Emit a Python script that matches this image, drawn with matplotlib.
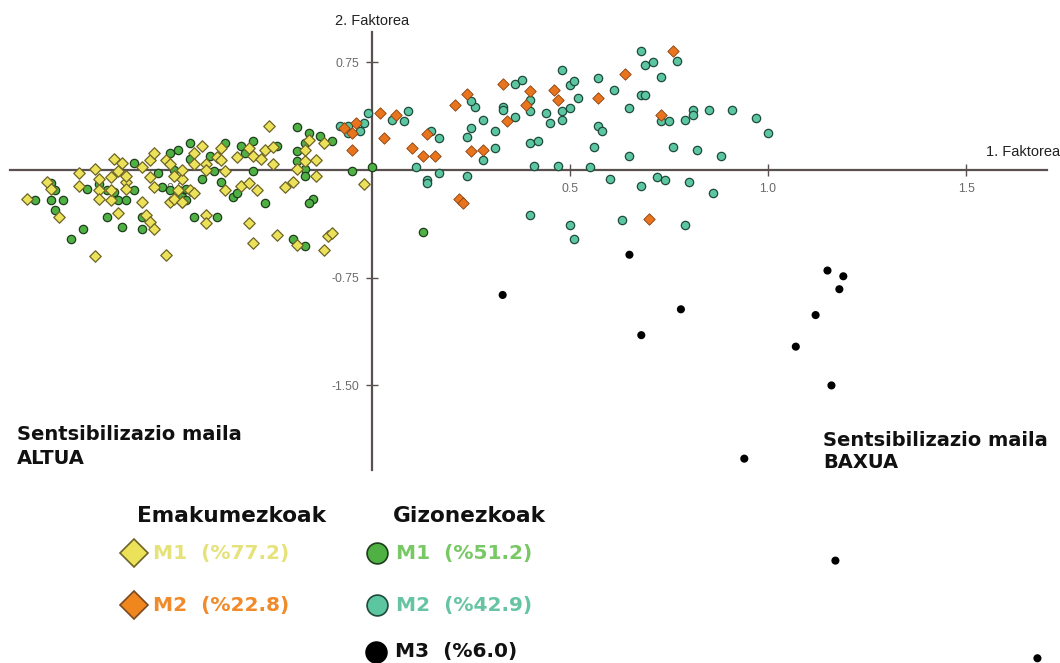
import matplotlib
matplotlib.use("Agg")
import matplotlib.pyplot as plt

# Factor scores (1. Faktorea, 2. Faktorea) by sex and group
women_m1_x = [-0.26, -0.43, -0.45, -0.39, -0.38, -0.38, -0.34, -0.31, -0.30, -0.28, -0.27, -0.25,
              -0.25, -0.45, -0.42, -0.42, -0.37, -0.48, -0.46, -0.45, -0.48, -0.37, -0.33, -0.31,
              -0.29, -0.22, -0.20, -0.19, -0.17, -0.14, -0.17, -0.16, -0.12, -0.14, -0.02, -0.42,
              -0.42, -0.31, -0.30, -0.24, -0.19, -0.12, -0.11, -0.10,
              -0.87, -0.82, -0.81, -0.79, -0.74, -0.74, -0.70, -0.70, -0.69, -0.69, -0.69, -0.66,
              -0.66, -0.65, -0.64, -0.63, -0.62, -0.62, -0.62, -0.66, -0.64, -0.58, -0.58, -0.56,
              -0.55, -0.56, -0.55, -0.57, -0.56, -0.55, -0.52, -0.52, -0.51, -0.50, -0.49, -0.48,
              -0.48, -0.50, -0.51]
women_m1_y = [0.31, 0.17, 0.12, 0.09, 0.15, 0.07, 0.09, 0.15, 0.10, 0.08, 0.14, 0.16,
              0.04, 0.04, 0.04, 0.00, -0.01, -0.06, -0.14, -0.16, -0.22, -0.14, -0.11, -0.09,
              -0.14, -0.12, -0.08, 0.01, 0.06, 0.07, 0.14, 0.21, 0.19, -0.04, -0.10, -0.31,
              -0.37, -0.37, -0.51, -0.45, -0.52, -0.56, -0.46, -0.44,
              -0.20, -0.08, -0.13, -0.33, -0.02, -0.11, -0.60, 0.01, -0.06, -0.14, -0.20, -0.21,
              -0.05, 0.08, -0.01, 0.05, -0.08, -0.04, -0.13, -0.14, -0.30, -0.22, 0.02, 0.07,
              0.12, -0.05, -0.12, -0.31, -0.36, -0.41, 0.07, -0.59, -0.22, -0.20, -0.14, -0.22,
              0.00, -0.04, 0.04]

women_m2_x = [0.02, 0.06, 0.03, 0.10, 0.13, 0.16, 0.14, 0.21, 0.24, 0.25, 0.28, 0.33, 0.34, 0.40,
              0.39, 0.46, 0.47, 0.22, 0.23, -0.07, -0.04, -0.05, -0.05, 0.76, 0.64, 0.57, 0.73, 0.70]
women_m2_y = [0.40, 0.38, 0.22, 0.15, 0.10, 0.10, 0.25, 0.45, 0.53, 0.13, 0.14, 0.60, 0.34, 0.55,
              0.45, 0.56, 0.49, -0.20, -0.23, 0.29, 0.33, 0.26, 0.14, 0.83, 0.67, 0.50, 0.38, -0.34]

men_m1_x = [-0.46, -0.46, -0.43, -0.40, -0.41, -0.37, -0.33, -0.30, -0.32, -0.38, -0.35, -0.34,
            -0.30, -0.27, -0.24, -0.19, -0.16, -0.13, -0.10, -0.19, -0.17, -0.19, -0.17, -0.17,
            -0.15, -0.16, -0.45, -0.39, -0.20, -0.17, -0.47, -0.48, -0.05, 0.00, 0.13,
            -0.85, -0.81, -0.80, -0.81, -0.78, -0.80, -0.76, -0.73, -0.72, -0.69, -0.67, -0.67,
            -0.65, -0.63, -0.64, -0.62, -0.60, -0.60, -0.58, -0.58, -0.54, -0.53, -0.51, -0.49,
            -0.50, -0.51, -0.47]
men_m1_y = [0.19, 0.08, -0.06, -0.01, 0.10, 0.19, 0.17, 0.20, 0.12, -0.08, -0.19, -0.16,
            -0.01, -0.23, 0.17, 0.30, 0.26, 0.24, 0.20, 0.13, 0.19, 0.06, 0.01, -0.04,
            -0.20, -0.23, -0.33, -0.33, -0.48, -0.53, -0.13, -0.19, -0.01, 0.02, -0.43,
            -0.21, -0.09, -0.14, -0.21, -0.21, -0.28, -0.48, -0.41, -0.13, -0.10, -0.14, -0.33,
            -0.15, -0.40, -0.21, -0.21, 0.05, -0.14, -0.41, -0.33, -0.02, -0.12, 0.12, 0.14,
            0.00, -0.14, -0.21]

men_m2_x = [-0.01, -0.02, -0.03, 0.05, 0.08, 0.09, 0.15, 0.17, 0.11, 0.14, 0.14, 0.17, 0.24,
            0.25, 0.24, 0.28, 0.26, 0.25, 0.31, 0.31, 0.28, 0.33, 0.33, 0.36, 0.36, 0.38, 0.40,
            0.40, 0.40, 0.42, 0.41, 0.47, 0.44, 0.45, 0.48, 0.48, 0.50, 0.48, 0.50, 0.51, 0.52,
            0.40, 0.50, 0.51, -0.08, -0.06, -0.06,
            0.68, 0.69, 0.71, 0.77, 0.73, 0.68, 0.69, 0.65, 0.61, 0.57, 0.57, 0.58, 0.56, 0.55,
            0.60, 0.65, 0.68, 0.72, 0.74, 0.73, 0.75, 0.76, 0.79, 0.81, 0.81, 0.85, 0.91, 0.97,
            1.00, 0.82, 0.88, 0.80, 0.86, 0.63, 0.79]
men_m2_y = [0.40, 0.33, 0.27, 0.35, 0.34, 0.41, 0.27, 0.22, 0.02, -0.07, -0.09, -0.02, -0.04,
            0.29, 0.23, 0.35, 0.44, 0.48, 0.27, 0.15, 0.07, 0.44, 0.42, 0.37, 0.60, 0.63, 0.49,
            0.41, 0.19, 0.20, 0.03, 0.03, 0.40, 0.33, 0.35, 0.41, 0.43, 0.70, 0.59, 0.62, 0.50,
            -0.31, -0.38, -0.48, 0.31, 0.31, 0.26,
            0.83, 0.73, 0.75, 0.76, 0.65, 0.52, 0.52, 0.43, 0.56, 0.64, 0.31, 0.27, 0.16, 0.02,
            -0.06, 0.10, -0.11, -0.05, -0.07, 0.34, 0.34, 0.16, 0.35, 0.42, 0.38, 0.42, 0.42, 0.36,
            0.26, 0.14, 0.10, -0.08, -0.16, -0.35, -0.38]

men_m3_x = [0.33, 0.65, 0.78, 0.68, 1.15, 1.19, 1.18, 1.12, 1.07, 1.16, 0.94, 1.17, 1.68]
men_m3_y = [-0.87, -0.59, -0.97, -1.15, -0.70, -0.74, -0.83, -1.01, -1.23, -1.50, -2.01, -2.72, -3.40]

x_ticks = [-0.5, 0.5, 1.0, 1.5]
x_tick_labels = ["-0.5", "0.5", "1.0", "1.5"]
y_ticks = [0.75, -0.75, -1.50]
y_tick_labels = ["0.75", "-0.75", "-1.50"]

YELLOW, YELLOW_EDGE, YELLOW_TXT = "#ece25a", "#6e6428", "#e6e27a"
ORANGE, ORANGE_EDGE, ORANGE_TXT = "#e8741e", "#8a4010", "#f08a2a"
GREEN, GREEN_EDGE, GREEN_TXT = "#4fb043", "#1e3e1c", "#78c866"
TEAL, TEAL_EDGE, TEAL_TXT = "#5cc6a0", "#1f4a3c", "#66c4a2"
AXIS = "#5a5050"

fig = plt.figure(figsize=(10.6, 6.63), dpi=100)
ax = fig.add_axes([0, 0, 1, 1])
ax.set_xlim(-0.939, 1.737)
ax.set_ylim(-3.433, 1.184)

# axes crossing at the origin
for side in ["top", "right"]:
    ax.spines[side].set_visible(False)
ax.spines["left"].set_position(("data", 0))
ax.spines["bottom"].set_position(("data", 0))
ax.spines["left"].set_bounds(-2.09, 0.96)
ax.spines["bottom"].set_bounds(-0.914, 1.705)
for side in ["left", "bottom"]:
    ax.spines[side].set_color(AXIS)
    ax.spines[side].set_linewidth(1.6)
    ax.spines[side].set_zorder(1)

ax.set_xticks(x_ticks)
ax.set_xticklabels(x_tick_labels)
ax.set_yticks(y_ticks)
ax.set_yticklabels(y_tick_labels)
ax.tick_params(direction="inout", length=8, width=1, color=AXIS, labelcolor="#6a6a6a",
               labelsize=8.8, pad=5)
for lab in ax.get_xticklabels() + ax.get_yticklabels():
    lab.set_family("Liberation Sans")

ax.text(0.0, 1.04, "2. Faktorea", ha="center", va="center", fontsize=10.5,
        family="Liberation Sans", color="#222222")
ax.text(1.737, 0.125, "1. Faktorea", ha="right", va="center", fontsize=10.5,
        family="Liberation Sans", color="#222222")

ax.scatter(men_m1_x, men_m1_y, s=36, marker="o", c=GREEN, edgecolors=GREEN_EDGE,
           linewidths=0.9, zorder=3)
ax.scatter(women_m1_x, women_m1_y, s=34, marker="D", c=YELLOW, edgecolors=YELLOW_EDGE,
           linewidths=0.9, zorder=3)
ax.scatter(men_m2_x, men_m2_y, s=36, marker="o", c=TEAL, edgecolors=TEAL_EDGE,
           linewidths=0.9, zorder=3)
ax.scatter(women_m2_x, women_m2_y, s=34, marker="D", c=ORANGE, edgecolors=ORANGE_EDGE,
           linewidths=0.6, zorder=3)
ax.scatter(men_m3_x, men_m3_y, s=34, marker="o", c="black", edgecolors="none", zorder=3)

bold = dict(family="DejaVu Sans", weight="bold", va="center")


def fx(px):
    return px / 1060


def fy(py):
    return 1 - py / 663


fig.text(fx(17), fy(434), "Sentsibilizazio maila", fontsize=14, color="#111111", **bold)
fig.text(fx(17), fy(459), "ALTUA", fontsize=14, color="#111111", **bold)
fig.text(fx(823), fy(440), "Sentsibilizazio maila", fontsize=14, color="#111111", **bold)
fig.text(fx(823), fy(463), "BAXUA", fontsize=14, color="#111111", **bold)

# group key
fig.text(fx(137), fy(516), "Emakumezkoak", fontsize=15.6, color="#111111", **bold)
fig.text(fx(393), fy(516), "Gizonezkoak", fontsize=15.6, color="#111111", **bold)

key = [
    (134, 553, "D", 14, YELLOW, YELLOW_EDGE, YELLOW_TXT, "M1  (%77.2)"),
    (134, 605, "D", 14, "#f0861e", "#7a4a20", ORANGE_TXT, "M2  (%22.8)"),
    (377, 553, "o", 15, GREEN, GREEN_EDGE, GREEN_TXT, "M1  (%51.2)"),
    (377, 605, "o", 15, TEAL, TEAL_EDGE, TEAL_TXT, "M2  (%42.9)"),
    (376, 652, "o", 15, "black", "black", "#111111", "M3  (%6.0)"),
]
for px, py, mk, ms, fc, ec, tc, label in key:
    ax.plot([fx(px)], [fy(py)], marker=mk, markersize=ms, markerfacecolor=fc,
            markeredgecolor=ec, markeredgewidth=1.2, transform=fig.transFigure,
            clip_on=False, linestyle="none")
    fig.text(fx(px + 19), fy(py), label, fontsize=14.5, color=tc, **bold)

fig.savefig("out.png", dpi=100, facecolor="white")
